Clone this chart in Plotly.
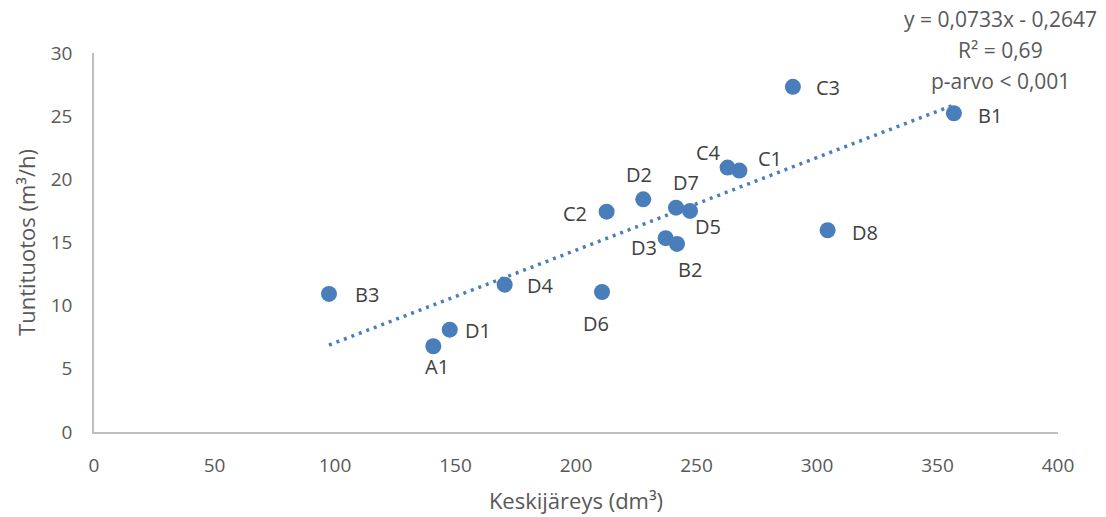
import plotly.graph_objects as go

# ---- data ----
labels = ["B3", "A1", "D1", "D4", "D6", "C2", "D2", "D3", "B2", "D7", "D5", "C4", "C1", "C3", "D8", "B1"]
keskijareys = [97.5, 140.8, 147.6, 170.4, 210.8, 212.7, 227.9, 237.2, 241.9, 241.5, 247.3, 262.9, 267.8, 290.0, 304.4, 356.8]
tuntituotos = [10.93, 6.79, 8.10, 11.66, 11.08, 17.44, 18.42, 15.34, 14.89, 17.76, 17.50, 20.93, 20.69, 27.32, 15.97, 25.23]
slope = 0.0733
intercept = -0.2647
x_ticks = [0, 50, 100, 150, 200, 250, 300, 350, 400]
y_ticks = [0, 5, 10, 15, 20, 25, 30]

# ---- styles ----
blue = "#4a7ebb"
text_col = "#595959"
label_col = "#404040"
font_family = "Open Sans, Lato, sans-serif"
# label offsets (pixels, plotly convention: positive yshift = up)
label_shift = {
    "B3": (38, -1), "A1": (4, -20), "D1": (28, -1), "D4": (36, -1),
    "D6": (-6, -31), "C2": (-32, -2), "D2": (-4, 25), "D3": (-22, -9),
    "B2": (13, -26), "D7": (10, 25), "D5": (18, -16), "C4": (-19, 15),
    "C1": (31, 12), "C3": (35, -1), "D8": (37, -2), "B1": (36, -2),
}

fig = go.Figure()

x0, x1 = min(keskijareys), max(keskijareys)
fig.add_trace(go.Scatter(
    x=[x0, x1], y=[slope * x0 + intercept, slope * x1 + intercept],
    mode="lines", line=dict(color=blue, width=3.5, dash="3px,5px"),
    hoverinfo="skip", showlegend=False,
))

fig.add_trace(go.Scatter(
    x=keskijareys, y=tuntituotos, mode="markers",
    marker=dict(color=blue, size=16, line=dict(width=0)),
    text=labels, showlegend=False,
))

for lab, xv, yv in zip(labels, keskijareys, tuntituotos):
    dx, dy = label_shift[lab]
    fig.add_annotation(
        x=xv, y=yv, text=lab, showarrow=False,
        xshift=dx, yshift=dy,
        font=dict(family=font_family, size=20, color=label_col),
    )

eq_lines = [
    f"y = {str(slope).replace('.', ',')}x - {str(abs(intercept)).replace('.', ',')}",
    "R² = 0,69",
    "p-arvo < 0,001",
]
for i, t in enumerate(eq_lines):
    fig.add_annotation(
        xref="paper", yref="paper", x=(1000 - 94) / (1058 - 94),
        y=1 + (53 - (19 + 31 * i)) / 379,
        text=t, showarrow=False, xanchor="center", yanchor="middle",
        font=dict(family=font_family, size=21, color=text_col),
    )

fig.update_layout(
    width=1106, height=517,
    margin=dict(l=94, r=48, t=53, b=85),
    paper_bgcolor="white", plot_bgcolor="white",
    font=dict(family=font_family, size=19, color=text_col),
    xaxis=dict(
        range=[0, 400], tickvals=x_ticks, showgrid=False, zeroline=False,
        showline=True, linecolor="#bfbfbf", linewidth=1.5, ticks="",
        tickfont=dict(size=19, color=text_col), ticklabelstandoff=15,
        automargin=False,
        title=dict(text="Keskijäreys (dm³)", font=dict(size=22, color=text_col), standoff=17),
    ),
    yaxis=dict(
        range=[0, 30], tickvals=y_ticks, showgrid=False, zeroline=False,
        showline=True, linecolor="#bfbfbf", linewidth=1.5, ticks="",
        tickfont=dict(size=19, color=text_col), ticklabelstandoff=16,
        automargin=False,
        title=dict(text="Tuntituotos (m³/h)", font=dict(size=22, color=text_col), standoff=9),
    ),
)

fig.write_html("out.html")
